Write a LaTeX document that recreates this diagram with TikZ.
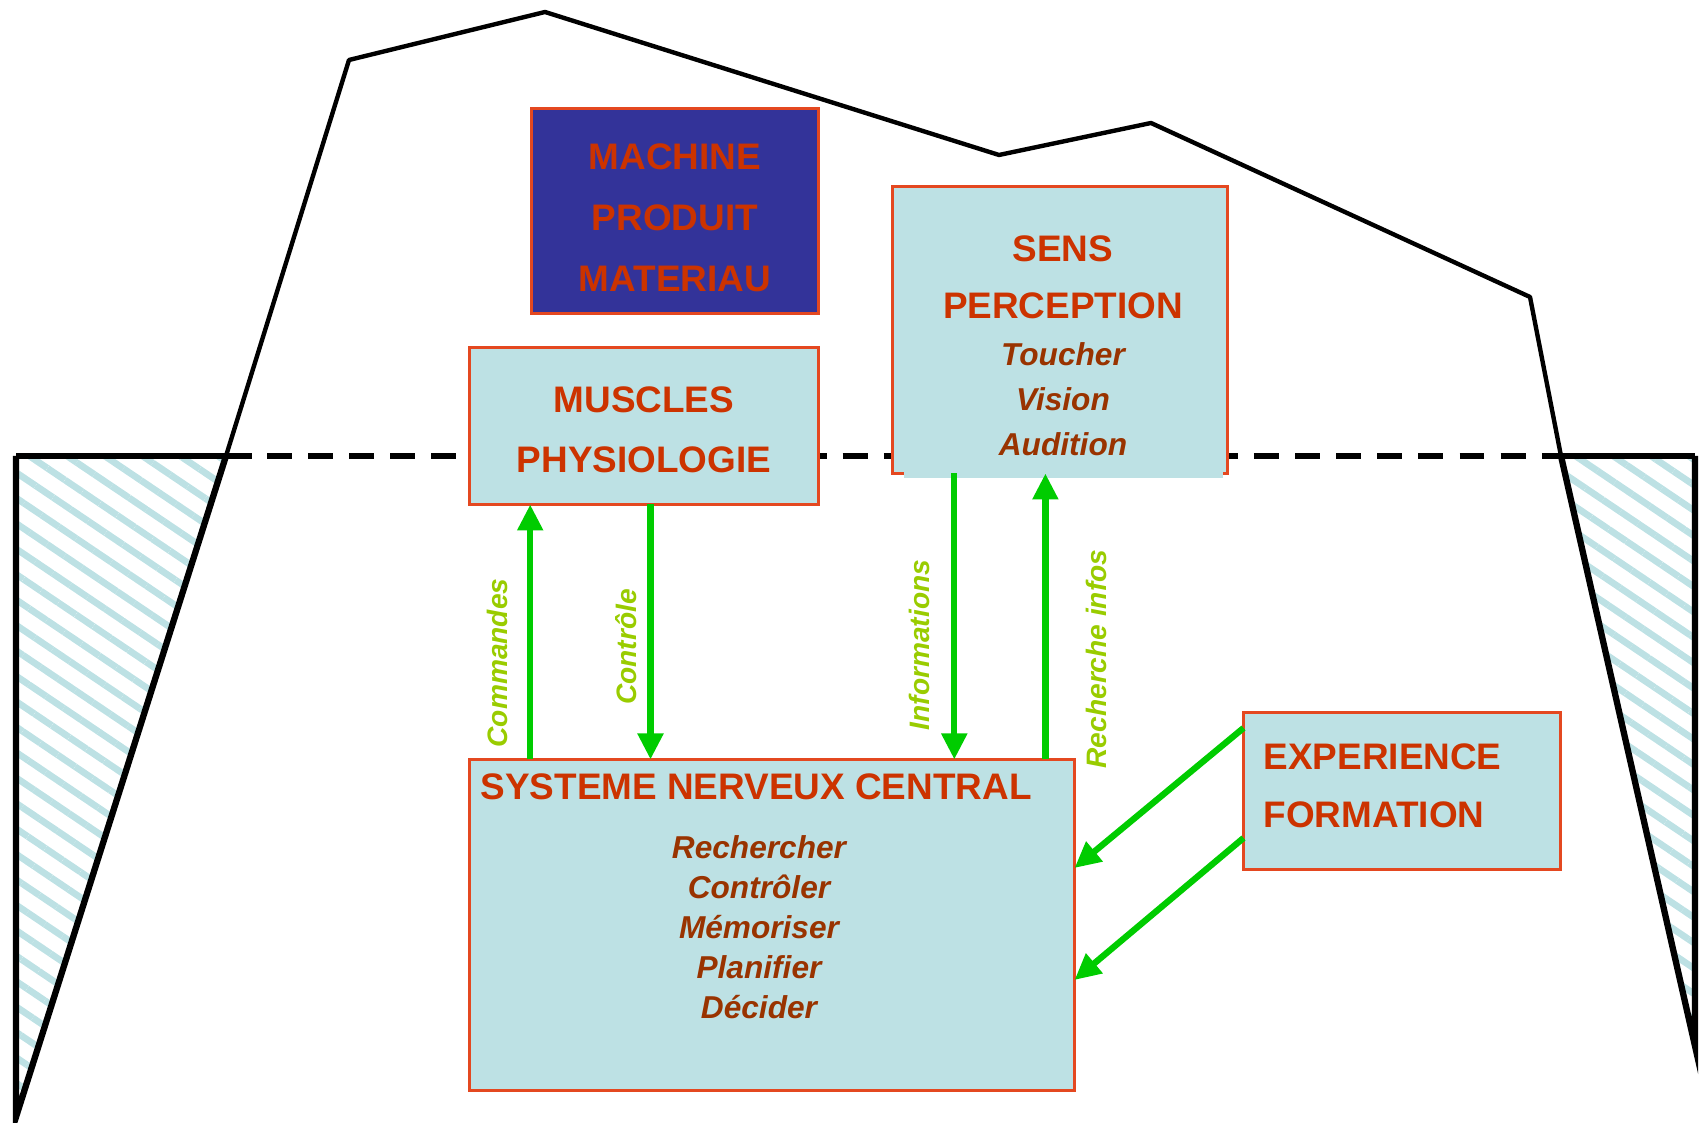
\documentclass[tikz,border=0pt]{standalone}
\usepackage{fontspec}
\setmainfont{Liberation Sans}
\usetikzlibrary{positioning,arrows.meta,patterns.meta}
\definecolor{boxcyan}{RGB}{189,225,228}
\definecolor{boxedge}{RGB}{228,72,32}
\definecolor{deepblue}{RGB}{51,51,153}
\definecolor{capred}{RGB}{204,51,0}
\definecolor{itemred}{RGB}{153,51,0}
\definecolor{flowgreen}{RGB}{0,204,0}
\definecolor{lblgreen}{RGB}{153,204,0}

\tikzset{
  box/.style={draw=boxedge, line width=0.6pt, fill=boxcyan, inner sep=0pt, outer sep=0pt},
  caps/.style={text=capred, inner sep=0pt, font=\fontsize{10.5}{17}\selectfont\bfseries},
  items/.style={text=itemred, inner sep=0pt, align=center, font=\fontsize{9}{11.4}\selectfont\bfseries\itshape},
  flow/.style={draw=flowgreen, line width=1.8pt, -{Triangle[length=7.4pt,width=7pt]}},
  flowlabel/.style={text=lblgreen, rotate=90, inner sep=0pt, font=\fontsize{8}{9}\selectfont\bfseries\itshape},
  ridge/.style={line width=1.25pt, line join=round},
  shore/.style={line width=1.8pt, line join=miter},
  hatch/.style={pattern={Lines[angle=-34,distance=6pt,line width=1.9pt]}, pattern color=boxcyan},
}

\begin{document}
\begin{tikzpicture}
  \useasboundingbox (0,0) rectangle (17,11.23);

  % emerged part and waterline
  \fill[hatch] (0.16,6.67) -- (2.26,6.67) -- (0.16,0.06) -- cycle;
  \fill[hatch] (15.61,6.67) -- (16.95,6.67) -- (16.95,0.77) -- cycle;
  \draw[ridge] (2.26,6.67) -- (3.49,10.63) -- (5.45,11.11) -- (9.99,9.68)
    -- (11.51,10.00) -- (15.30,8.26) -- (15.61,6.67);
  \draw[shore] (2.26,6.67) -- (0.16,0.06) -- (0.16,6.67);
  \draw[shore] (15.61,6.67) -- (16.95,0.77) -- (16.95,6.67);
  \draw[line width=1.5pt] (0.16,6.67) -- (2.52,6.67);
  \draw[line width=1.5pt] (15.61,6.67) -- (16.95,6.67);
  \draw[line width=1.5pt, dash pattern=on 7.1pt off 4.6pt] (2.67,6.67) -- (15.61,6.67);

  % boxes
  \node[box, fill=deepblue, minimum width=2.87cm, minimum height=2.05cm] (machine) at (6.75,9.12) {};
  \node[caps, align=center, font=\fontsize{10.5}{17.4}\selectfont\bfseries] (machinetext)
    at ([yshift=-0.65mm]machine.center) {MACHINE\\PRODUIT\\MATERIAU};

  \node[box, minimum width=3.49cm, minimum height=1.57cm,
    below left=3.4mm and 0mm of machine.south east] (muscles) {};
  \node[caps, align=center] (musclestext) at ([yshift=-0.4mm]muscles.center) {MUSCLES\\PHYSIOLOGIE};

  \node[box, minimum width=3.35cm, minimum height=2.87cm] (sens) at (10.60,7.93) {};
  \fill[boxcyan] ([xshift=1.1mm,yshift=0.5pt]sens.south west) rectangle ([xshift=-0.5mm,yshift=-0.5mm]sens.south east);
  \node[caps, align=center, font=\fontsize{10.5}{16.3}\selectfont\bfseries] (senstitle)
    at ([xshift=0.3mm,yshift=5.3mm]sens.center) {SENS\\PERCEPTION};
  \node[items, font=\fontsize{9}{12.8}\selectfont\bfseries\itshape] (senslist)
    at ([xshift=0.3mm,yshift=-6.9mm]sens.center) {Toucher\\Vision\\Audition};

  \node[box, minimum width=6.05cm, minimum height=3.31cm,
    below right=25.5mm and 0mm of muscles.south west] (snc) {};
  \node[caps, anchor=west] (snctitle) at ([xshift=1.05mm,yshift=-2.7mm]snc.north west) {SYSTEME NERVEUX CENTRAL};
  \node[items] (sncitems) at ([xshift=-1.3mm,yshift=-0.2mm]snc.center)
    {Rechercher\\Contrôler\\Mémoriser\\Planifier\\Décider};

  \node[box, minimum width=3.17cm, minimum height=1.57cm] (experience) at (14.02,3.32) {};
  \node[caps, align=left, anchor=west, font=\fontsize{10.5}{16.6}\selectfont\bfseries] (experiencetext)
    at ([xshift=1.95mm,yshift=0.55mm]experience.west) {EXPERIENCE\\FORMATION};

  % flows
  \coordinate (cmdfoot) at ([xshift=6.07mm]snc.north west);
  \coordinate (ctlhead) at ([xshift=18.1mm]muscles.south west);
  \coordinate (infohead) at ([xshift=6.18mm]sens.south west);
  \coordinate (rechhead) at ([xshift=15.29mm]sens.south west);

  \draw[flow] (cmdfoot) -- (cmdfoot |- muscles.south);
  \draw[flow] (ctlhead) -- (ctlhead |- snc.north);
  \draw[flow] (infohead) -- (infohead |- snc.north);
  \draw[flow] (rechhead |- snc.north) -- (rechhead);
  \draw[flow] ([yshift=6.3mm]experience.west) -- ([yshift=5.7mm]snc.east);
  \draw[flow] ([yshift=-4.7mm]experience.west) -- ([yshift=-5.5mm]snc.east);

  \node[flowlabel] (lblcmd) at (4.97,4.60) {Commandes};
  \node[flowlabel] (lblctl) at (6.26,4.76) {Contrôle};
  \node[flowlabel] (lblinfo) at (9.19,4.78) {Informations};
  \node[flowlabel] (lblrech) at (10.96,4.64) {Recherche infos};
\end{tikzpicture}
\end{document}
